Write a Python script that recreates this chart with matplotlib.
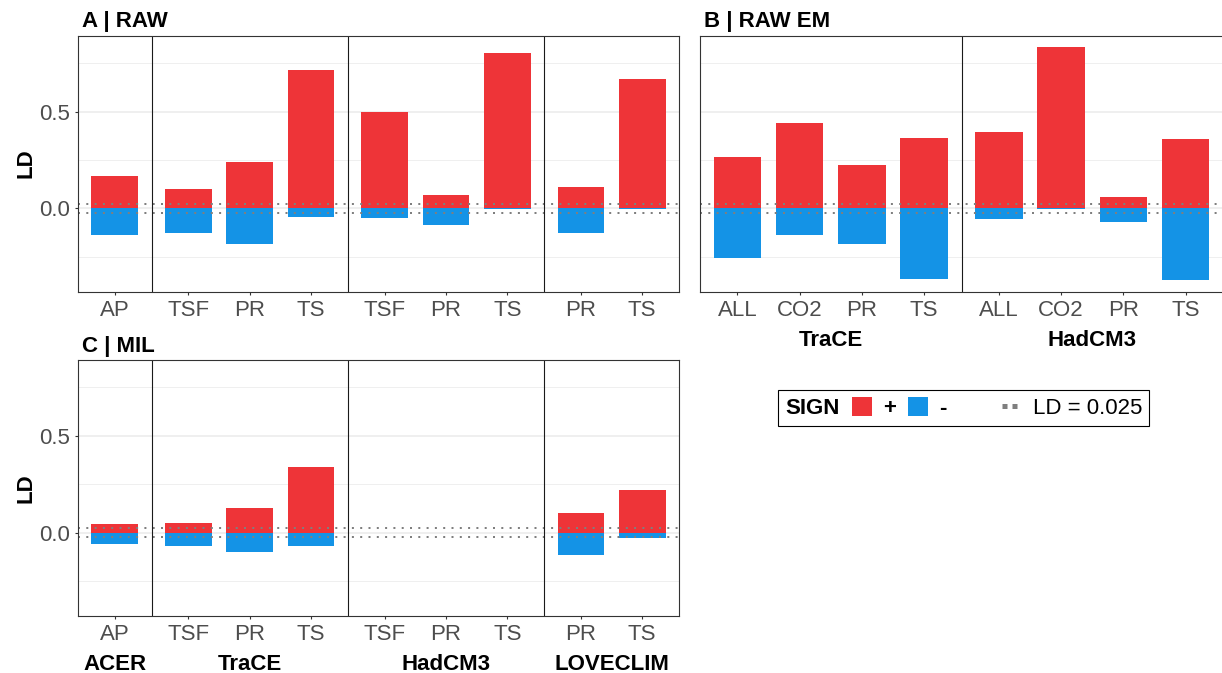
import numpy as np
import matplotlib.pyplot as plt
from matplotlib.patches import Patch
from matplotlib.lines import Line2D
from matplotlib.offsetbox import HPacker

plt.rcParams['font.family'] = ['Liberation Sans', 'DejaVu Sans']

RED = "#EE3438"
BLUE = "#1493E6"
GREY_TXT = "#4D4D4D"
BORDER = "#333333"

# ---- LD values, per model group ----
models = ["ACER", "TraCE", "HadCM3", "LOVECLIM"]
variables = [["AP"], ["TSF", "PR", "TS"], ["TSF", "PR", "TS"], ["PR", "TS"]]
raw_pos = [[0.170], [0.103, 0.242, 0.714], [0.498, 0.072, 0.802], [0.113, 0.668]]
raw_neg = [[-0.137], [-0.127, -0.183, -0.045], [-0.050, -0.086, -0.004], [-0.127, -0.004]]
mil_pos = [[0.047], [0.052, 0.129, 0.341], [np.nan, np.nan, np.nan], [0.103, 0.222]]
mil_neg = [[-0.060], [-0.067, -0.102, -0.067], [np.nan, np.nan, np.nan], [-0.117, -0.026]]

em_models = ["TraCE", "HadCM3"]
em_variables = [["ALL", "CO2", "PR", "TS"], ["ALL", "CO2", "PR", "TS"]]
em_pos = [[0.267, 0.442, 0.226, 0.365], [0.396, 0.832, 0.057, 0.360]]
em_neg = [[-0.255, -0.137, -0.183, -0.363], [-0.055, -0.003, -0.070, -0.368]]

ld_threshold = 0.025

# shared y range (ggplot-like 5% expansion)
allv = np.concatenate([np.concatenate(v) for v in (raw_pos, raw_neg, mil_pos, mil_neg, em_pos, em_neg)])
lo, hi = np.nanmin(allv), np.nanmax(allv)
pad = 0.05 * (hi - lo)
YLIM = (lo - pad, hi + pad)


def facet_positions(var_groups):
    # discrete facets side by side, 0.6 expansion each side
    xs, seps, centers = [], [], []
    start = 0.0
    for i, vs in enumerate(var_groups):
        x = start + np.arange(len(vs))
        xs.append(x)
        centers.append(x.mean())
        right = x[-1] + 0.6
        if i < len(var_groups) - 1:
            seps.append(right)
        start = right + 0.6
    return xs, seps, centers, (-0.6, right)


def draw_panel(ax, title, groups, var_groups, pos_vals, neg_vals, show_groups, show_y):
    xs, seps, centers, xlim = facet_positions(var_groups)
    for x, p, n in zip(xs, pos_vals, neg_vals):
        p = np.asarray(p, float)
        n = np.asarray(n, float)
        ok = ~np.isnan(p)
        ax.bar(x[ok], p[ok], width=0.76, color=RED, zorder=2)
        ax.bar(x[ok], n[ok], width=0.76, color=BLUE, zorder=2)
    for y in (ld_threshold, -ld_threshold):
        ax.axhline(y, color="#7F7F7F", lw=1.44, linestyle=(0, (1, 3.15)), zorder=3)
    for s in seps:
        ax.axvline(s, color="#1A1A1A", lw=0.8, zorder=4)

    ax.set_xlim(xlim)
    ax.set_ylim(YLIM)
    ax.set_xticks(np.concatenate(xs))
    ax.set_xticklabels(sum(var_groups, []))
    ax.set_yticks([0.0, 0.5])
    ax.set_yticklabels(["0.0", "0.5"])
    ax.set_yticks([-0.25, 0.25, 0.75], minor=True)
    ax.yaxis.grid(True, which="major", color="#EBEBEB", lw=1.1)
    ax.yaxis.grid(True, which="minor", color="#EBEBEB", lw=0.55)
    ax.set_axisbelow(True)
    ax.tick_params(axis="both", which="major", labelsize=16, labelcolor=GREY_TXT,
                   color=BORDER, length=2.4, width=0.8)
    ax.tick_params(axis="x", pad=3.5)
    ax.tick_params(axis="y", pad=3.5)
    ax.tick_params(which="minor", length=0)
    for sp in ax.spines.values():
        sp.set_color(BORDER)
        sp.set_linewidth(0.8)
        sp.set_zorder(5)

    if show_y:
        ax.set_ylabel("LD", fontsize=16, fontweight="bold", color="black")
        ax.yaxis.set_label_coords(-0.069, 0.5)
    else:
        ax.tick_params(axis="y", left=False, labelleft=False)

    ax.annotate(title, xy=(0, 1), xycoords="axes fraction", xytext=(3.2, 5.8),
                textcoords="offset points", ha="left", va="baseline",
                fontsize=16, fontweight="bold")

    if show_groups:
        for c, g in zip(centers, groups):
            ax.annotate(g, xy=(c, 0), xycoords=("data", "axes fraction"),
                        xytext=(0, -39.5), textcoords="offset points",
                        ha="center", va="baseline", fontsize=16, fontweight="bold",
                        annotation_clip=False)


W, H = 1222, 673
fig = plt.figure(figsize=(W / 100, H / 100), dpi=100)

ax_a = fig.add_axes([78 / W, (H - 291.5) / H, 601 / W, 256 / H])
ax_b = fig.add_axes([700 / W, (H - 291.5) / H, 523 / W, 256 / H])
ax_c = fig.add_axes([78 / W, (H - 615.5) / H, 601 / W, 255.5 / H])

draw_panel(ax_a, "A | RAW", models, variables, raw_pos, raw_neg, False, True)
draw_panel(ax_b, "B | RAW EM", em_models, em_variables, em_pos, em_neg, True, False)
draw_panel(ax_c, "C | MIL", models, variables, mil_pos, mil_neg, True, True)

# legend: SIGN title on the left, threshold key on the right
handles = [Patch(facecolor=RED, edgecolor="none"),
           Patch(facecolor=BLUE, edgecolor="none"),
           Patch(facecolor="none", edgecolor="none"),
           Line2D([], [], color="#7F7F7F", lw=3.6, linestyle=(0, (1, 1)))]
labels = ["+", "-", "", "LD = 0.025"]
leg = fig.legend(handles, labels, ncol=4, title="SIGN", loc="center left",
                 bbox_to_anchor=(778.3 / W, (H - 408) / H), borderaxespad=0,
                 fontsize=16, title_fontproperties={"weight": "bold", "size": 16},
                 handlelength=0.9, handleheight=0.9, handletextpad=0.5,
                 columnspacing=0.55, borderpad=0.3, fancybox=False,
                 edgecolor="black", framealpha=1)
leg.get_frame().set_linewidth(0.8)
for t in leg.get_texts()[:2]:
    t.set_fontweight("bold")
leg._legend_box = HPacker(pad=4.8, sep=9.0, align="center",
                          children=[leg._legend_title_box, leg._legend_handle_box])
leg._legend_box.set_figure(fig)
leg._legend_box.set_offset(leg._findoffset)

fig.savefig("out.png", dpi=100)
